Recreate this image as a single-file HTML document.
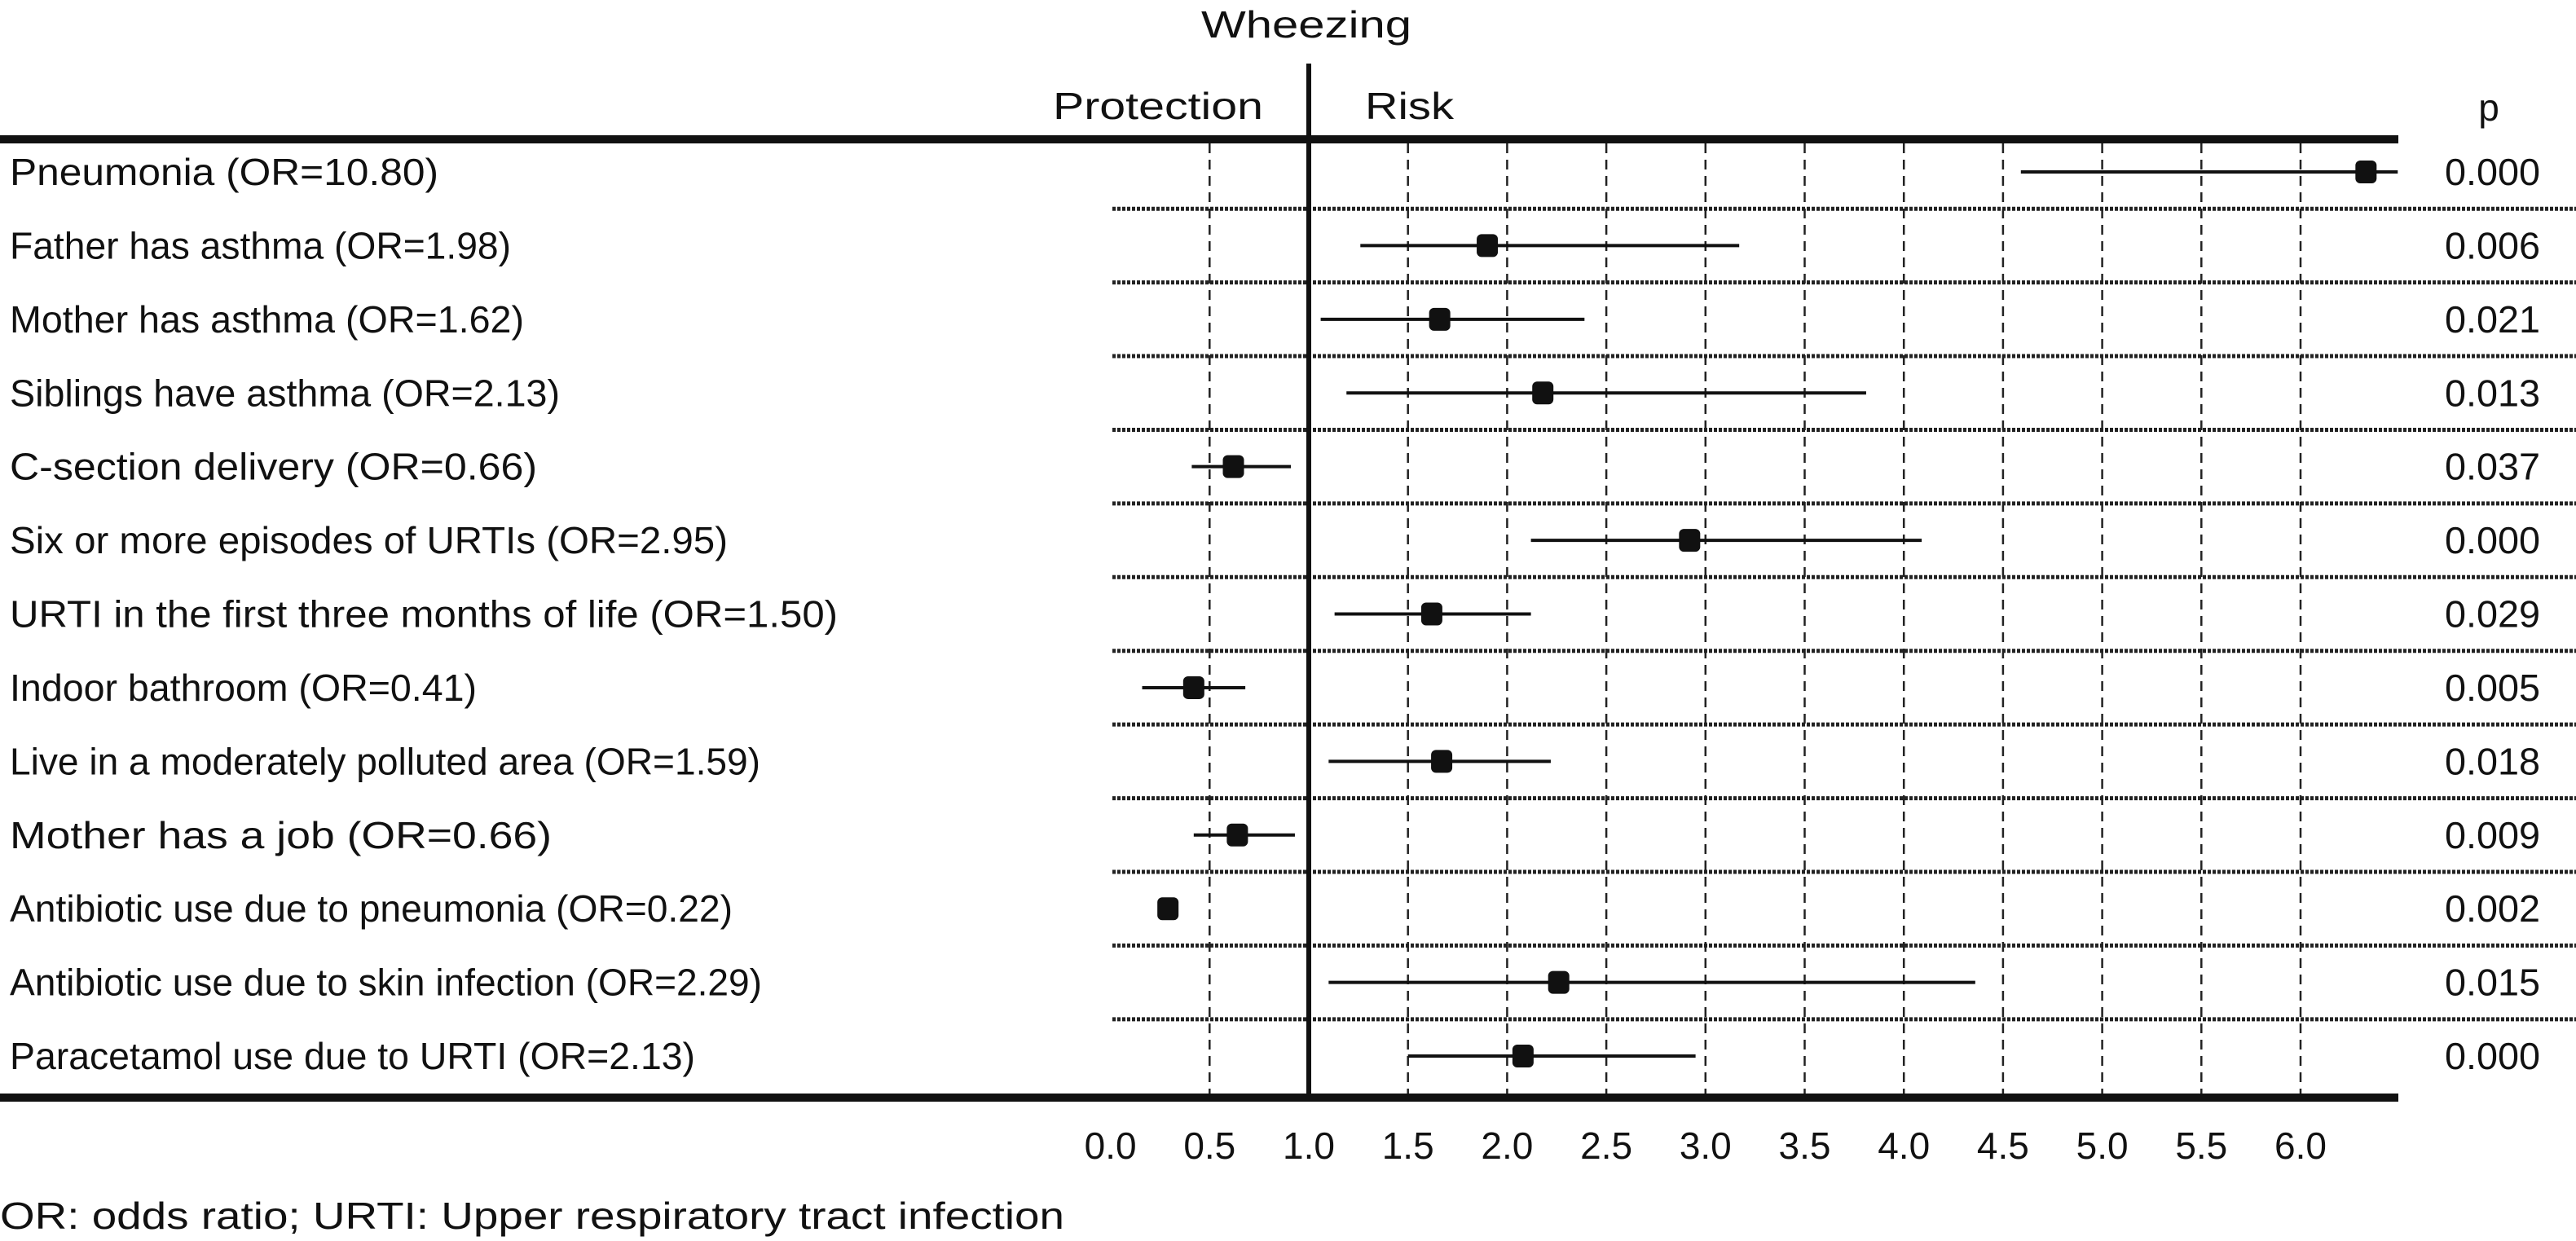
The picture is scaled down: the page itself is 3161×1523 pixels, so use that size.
<!DOCTYPE html>
<html><head><meta charset="utf-8"><style>
body{margin:0;background:#fff}
svg{display:block}
text{font-family:"Liberation Sans",sans-serif;font-size:46px;fill:#111}
</style></head><body>
<svg id="chart" width="3161" height="1523" viewBox="0 0 3161 1523"></svg>
<script>
const labels=["Pneumonia (OR=10.80)","Father has asthma (OR=1.98)","Mother has asthma (OR=1.62)","Siblings have asthma (OR=2.13)","C-section delivery (OR=0.66)","Six or more episodes of URTIs (OR=2.95)","URTI in the first three months of life (OR=1.50)","Indoor bathroom (OR=0.41)","Live in a moderately polluted area (OR=1.59)","Mother has a job (OR=0.66)","Antibiotic use due to pneumonia (OR=0.22)","Antibiotic use due to skin infection (OR=2.29)","Paracetamol use due to URTI (OR=2.13)"];
const points=[6.33,1.90,1.66,2.18,0.62,2.92,1.62,0.42,1.67,0.64,0.29,2.26,2.08];
const lower=[4.59,1.26,1.06,1.19,0.41,2.12,1.13,0.16,1.10,0.42,null,1.10,1.50];
const upper=[6.49,3.17,2.39,3.81,0.91,4.09,2.12,0.68,2.22,0.93,null,4.36,2.95];
const pvals=["0.000","0.006","0.021","0.013","0.037","0.000","0.029","0.005","0.018","0.009","0.002","0.015","0.000"];
const labelWidths=[526,615,631,675,647,881,1016,573,921,665,887,923,841];
const ticks=[0,0.5,1,1.5,2,2.5,3,3.5,4,4.5,5,5.5,6];

const svg=document.getElementById('chart');
const NS='http://www.w3.org/2000/svg';
const X=v=>1606+(v-1)*243.4;
const Y=i=>211+i*90.42;
function mk(tag,attrs,txt){const e=document.createElementNS(NS,tag);for(const k in attrs)e.setAttribute(k,attrs[k]);if(txt!==undefined)e.textContent=txt;svg.appendChild(e);return e;}

let e;
ticks.forEach(t=>{if(t===0||t===1)return;
 e=mk('line',{x1:X(t),x2:X(t),y1:176,y2:1342,stroke:'#222','stroke-width':2.5,'stroke-dasharray':'12,8'});
 
 
});
for(let i=0;i<12;i++){
 e=mk('line',{x1:1365,x2:3161,y1:(Y(i)+Y(i+1))/2,y2:(Y(i)+Y(i+1))/2,stroke:'#222','stroke-width':5,'stroke-dasharray':'4,2'});
 
 
}
e=mk('rect',{x:0,y:166,width:2943,height:10,fill:'#111'});


e=mk('rect',{x:0,y:1342,width:2943,height:10,fill:'#111'});


e=mk('rect',{x:X(1)-3,y:78,width:6,height:1266,fill:'#111'});


e=mk('text',{x:1474,y:46,textLength:258,lengthAdjust:'spacingAndGlyphs'},'Wheezing');


e=mk('text',{x:1292,y:146,textLength:258,lengthAdjust:'spacingAndGlyphs'},'Protection');


e=mk('text',{x:1675,y:146,textLength:109,lengthAdjust:'spacingAndGlyphs'},'Risk');


e=mk('text',{x:3054,y:148,'text-anchor':'middle'},'p');


labels.forEach((l,i)=>{
 const y=Y(i);
 e=mk('text',{x:12,y:y+16,textLength:labelWidths[i],lengthAdjust:'spacingAndGlyphs'},l);
 
 
 e=mk('text',{x:3000,y:y+16,textLength:117,lengthAdjust:'spacingAndGlyphs'},pvals[i]);
 
 
 if(lower[i]!==null){
  const x2=Math.min(X(upper[i]),2943);
  e=mk('line',{x1:X(lower[i]),x2:x2,y1:y,y2:y,stroke:'#111','stroke-width':4});
  
  
 }
 e=mk('rect',{x:X(points[i])-13,y:y-14,width:26,height:28,rx:6,fill:'#111'});
 
 
});
ticks.forEach(t=>{
 e=mk('text',{x:X(t),y:1422,'text-anchor':'middle'},t.toFixed(1));
 
 
});
e=mk('text',{x:0,y:1508,textLength:1306,lengthAdjust:'spacingAndGlyphs'},'OR: odds ratio; URTI: Upper respiratory tract infection');


</script>
</body></html>
